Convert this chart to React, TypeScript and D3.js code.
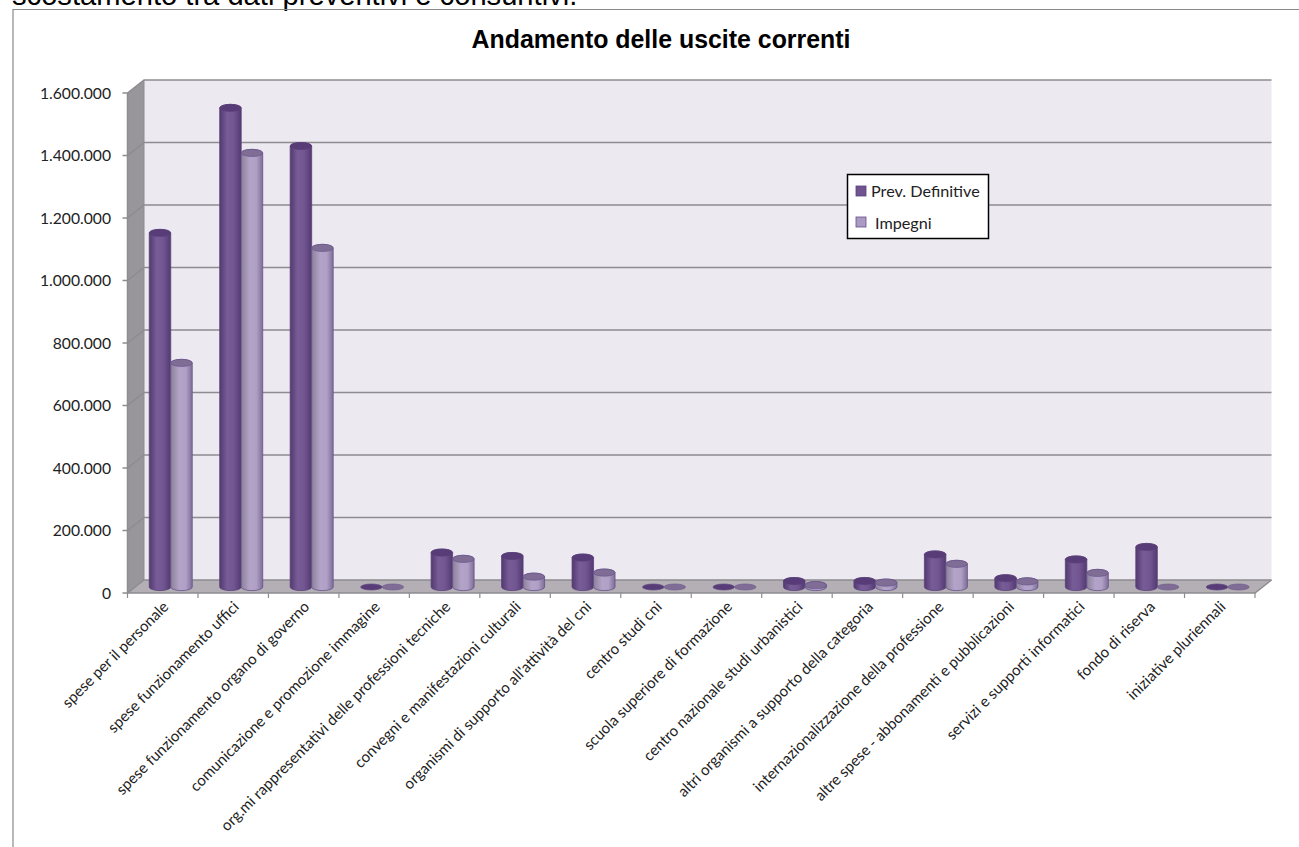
import React from "react";
import * as d3 from "d3";

const categories = ["spese per il personale","spese funzionamento uffici","spese funzionamento organo di governo","comunicazione e promozione immagine","org.mi rappresentativi delle professioni tecniche","convegni e manifestazioni culturali","organismi di supporto all'attività del cni","centro studi cni","scuola superiore di formazione","centro nazionale studi urbanistici","altri organismi a supporto della categoria","internazionalizzazione della professione","altre spese - abbonamenti e pubblicazioni","servizi e supporti informatici","fondo di riserva","iniziative pluriennali"];
const prevDefinitive = [1133000,1533000,1411000,0,110000,99000,94000,0,0,19000,19000,104000,28000,88000,128000,0];
const impegni = [717000,1389000,1085000,0,90000,33000,46000,0,0,6000,14000,74000,18000,45000,0,0];
const yTicks = [0,200000,400000,600000,800000,1000000,1200000,1400000,1600000];
const tickLabels = ["0","200.000","400.000","600.000","800.000","1.000.000","1.200.000","1.400.000","1.600.000"];
const seriesNames = ["Prev. Definitive","Impegni"];

const W = 1299, H = 847;
const front = { l: 127.5, r: 1255, b: 593, t: 93 };
const dx = 16.5, dy = -13;
const y = d3.scaleLinear().domain([0, 1600000]).range([front.b, front.t]);
const x = d3.scaleBand().domain(categories).range([front.l, front.r]);
const sans = "Lato, Carlito, sans-serif";
const gridC = "#8e8c90";
const barW = 21.5, ry = 3.6, bx = 8, by = -6;

function cyl(l: number, top: number, base: number) {
  const r = barW / 2;
  return `M${l},${top}A${r},${ry} 0 0 1 ${l + barW},${top}V${base}A${r},${ry} 0 0 1 ${l},${base}Z`;
}

function Bar({ cat, v, s }: { cat: string; v: number; s: number }) {
  const c = x(cat)! + x.bandwidth() / 2 + bx;
  const l = s === 0 ? c - barW : c;
  const base = y(0) + by;
  const top = y(v) + by;
  const cx = l + barW / 2;
  const cap = s === 0 ? "#573c78" : "#7f6d96";
  if (v === 0) {
    return <ellipse cx={cx} cy={base} rx={barW / 2} ry={3} fill={cap} stroke={s === 0 ? "#5f4580" : "#6f5c8c"} strokeWidth={0.7} />;
  }
  return (
    <g>
      <path d={cyl(l, top, base)} fill={`url(#grad${s})`} stroke={s === 0 ? "#5a4079" : "#65508a"} strokeWidth={0.8} />
      <ellipse cx={cx} cy={top} rx={barW / 2} ry={ry} fill={cap} stroke={s === 0 ? "#5a4079" : "#65508a"} strokeWidth={0.6} />
    </g>
  );
}

export default function App() {
  return (
    <svg width={W} height={H} viewBox={`0 0 ${W} ${H}`} style={{ position: "absolute", left: 0, top: 0, display: "block", background: "#fff" }}>
      <defs>
        <linearGradient id="grad0" x1="0" x2="1" y1="0" y2="0">
          <stop offset="0" stopColor="#523a70" />
          <stop offset="0.35" stopColor="#785c98" />
          <stop offset="0.65" stopColor="#725692" />
          <stop offset="1" stopColor="#533a72" />
        </linearGradient>
        <linearGradient id="grad1" x1="0" x2="1" y1="0" y2="0">
          <stop offset="0" stopColor="#8c8299" />
          <stop offset="0.4" stopColor="#b3a3c9" />
          <stop offset="0.7" stopColor="#b0a0c6" />
          <stop offset="1" stopColor="#7e6e98" />
        </linearGradient>
      </defs>
      <text x={12} y={4.5} fontFamily="'Liberation Sans', Arial, sans-serif" fontSize={29.15} fill="#000">scostamento tra dati preventivi e consuntivi.</text>
      <path d={`M13,847V9.5H${W}`} fill="none" stroke="#8a8a8a" strokeWidth={1.2} />
      <text x={661} y={47.5} textAnchor="middle" fontFamily="'Liberation Sans', Arial, sans-serif" fontWeight="bold" fontSize={24.9} fill="#000">Andamento delle uscite correnti</text>

      <polygon points={`${front.l + dx},${front.t + dy} ${front.r + dx},${front.t + dy} ${front.r + dx},${front.b + dy} ${front.l + dx},${front.b + dy}`} fill="#ece9f1" />
      <polygon points={`${front.l},${front.t} ${front.l + dx},${front.t + dy} ${front.l + dx},${front.b + dy} ${front.l},${front.b}`} fill="#98969b" />
      <polygon points={`${front.l},${front.b} ${front.l + dx},${front.b + dy} ${front.r + dx},${front.b + dy} ${front.r},${front.b}`} fill="#b3afb5" />

      {yTicks.map((t) => (
        <path key={t} d={`M${front.l - 5},${y(t)}H${front.l}L${front.l + dx},${y(t) + dy}H${front.r + dx}`} fill="none" stroke={gridC} strokeWidth={1.5} />
      ))}
      <path d={`M${front.l + dx},${y(1600000) + dy}V${y(0) + dy}`} stroke={gridC} strokeWidth={1} fill="none" />
      <path d={`M${front.l},${y(1600000)}V${y(0)}H${front.r}L${front.r + dx},${y(0) + dy}`} stroke={gridC} strokeWidth={1.5} fill="none" />
      {[...categories.map((c) => x(c)!), front.r].map((tx, i) => (
        <line key={i} x1={tx} x2={tx} y1={y(0)} y2={y(0) + 5} stroke={gridC} strokeWidth={1.2} />
      ))}

      {categories.map((c, i) => (
        <g key={c}>
          <Bar cat={c} v={prevDefinitive[i]} s={0} />
          <Bar cat={c} v={impegni[i]} s={1} />
        </g>
      ))}

      {yTicks.map((t, i) => (
        <text key={t} x={111} y={y(t) + 5.5} textAnchor="end" fontFamily={sans} fontSize={15.7} fill="#222">{tickLabels[i]}</text>
      ))}
      {categories.map((c) => {
        const tx = x(c)! + x.bandwidth() / 2 + 4;
        const ty = 605;
        return (
          <text key={c} transform={`translate(${tx},${ty}) rotate(-45)`} textAnchor="end" dominantBaseline="middle" fontFamily={sans} fontSize={15.15} fill="#222">{c}</text>
        );
      })}

      <rect x={847.5} y={174.5} width={141} height={64} fill="#fff" stroke="#000" strokeWidth={1.5} />
      <rect x={856} y={186} width={10} height={10} fill="#6f5490" stroke="#5a4079" strokeWidth={0.8} />
      <rect x={856} y={217} width={10} height={10} fill="#ab9bc3" stroke="#65508a" strokeWidth={0.8} />
      <text x={871} y={197} fontFamily={sans} fontSize={16.2} fill="#222">{seriesNames[0]}</text>
      <text x={875} y={229} fontFamily={sans} fontSize={16.2} fill="#222">{seriesNames[1]}</text>
    </svg>
  );
}
